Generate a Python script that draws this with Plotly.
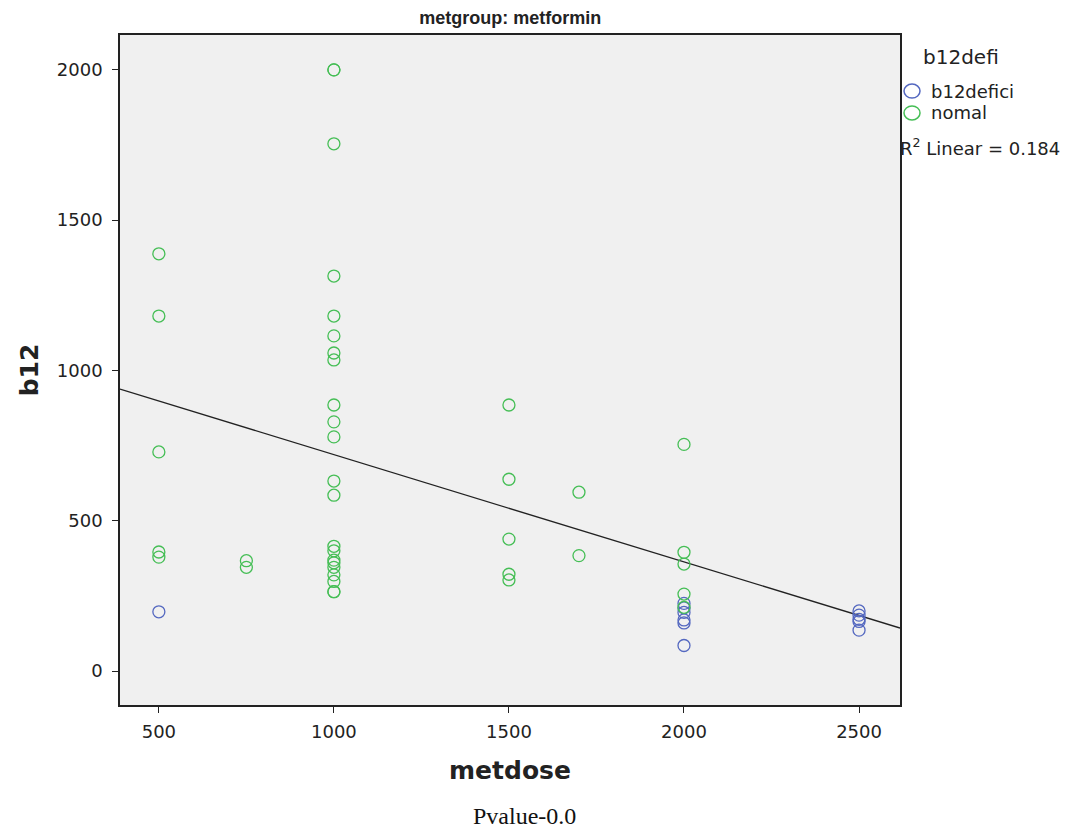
import plotly.graph_objects as go

# data
defici_dose = [500, 2000, 2000, 2000, 2000, 2000, 2000, 2500, 2500, 2500, 2500, 2500]
defici_b12 = [197, 225, 210, 195, 170, 160, 85, 200, 186, 172, 165, 136]

nomal_dose = [500, 500, 500, 500, 500,
              750, 750,
              1000, 1000, 1000, 1000, 1000, 1000, 1000, 1000, 1000, 1000, 1000, 1000, 1000,
              1000, 1000, 1000, 1000, 1000, 1000, 1000, 1000, 1000,
              1500, 1500, 1500, 1500, 1500,
              1700, 1700,
              2000, 2000, 2000, 2000, 2000]
nomal_b12 = [1388, 1181, 729, 396, 379,
             367, 345,
             2000, 2000, 1754, 1314, 1181, 1115, 1058, 1035, 885, 829, 779, 632, 585,
             415, 400, 369, 360, 345, 320, 298, 264, 264,
             885, 638, 439, 322, 303,
             595, 384,
             754, 395, 356, 256, 212]

# fit line endpoints (as drawn)
fit_x = [389, 2617]
fit_y = [938, 143]

x_ticks = [500, 1000, 1500, 2000, 2500]
y_ticks = [0, 500, 1000, 1500, 2000]

legend_names = ['b12defici', 'nomal']

blue = '#5468c0'
green = '#45be55'
sans = 'DejaVu Sans, Liberation Sans, Arial, sans-serif'

fig = go.Figure()
fig.add_trace(go.Scatter(x=fit_x, y=fit_y, mode='lines',
                         line=dict(color='#222222', width=1.3),
                         showlegend=False, hoverinfo='skip'))
fig.add_trace(go.Scatter(x=defici_dose, y=defici_b12, mode='markers', name=legend_names[0],
                         showlegend=False,
                         marker=dict(symbol='circle-open', size=12, color=blue,
                                     line=dict(width=1.3, color=blue))))
fig.add_trace(go.Scatter(x=nomal_dose, y=nomal_b12, mode='markers', name=legend_names[1],
                         showlegend=False,
                         marker=dict(symbol='circle-open', size=12, color=green,
                                     line=dict(width=1.3, color=green))))

fig.update_layout(
    width=1062, height=821,
    margin=dict(l=112, r=170, t=27, b=124),
    paper_bgcolor='white', plot_bgcolor='#f0f0f0',
    font=dict(family=sans, size=18, color='#222222'),
    title=dict(text='<b>metgroup: metformin</b>', x=0.473, xanchor='center',
               y=0.988, yanchor='middle',
               font=dict(family='Liberation Sans, Arial, sans-serif', size=18, color='#222222')),
    showlegend=False,
)
fig.update_xaxes(range=[389, 2617], tickvals=x_ticks, ticks='outside', ticklen=6,
                 tickcolor='#222222', showgrid=False, zeroline=False,
                 showline=True, linecolor='#222222', linewidth=1.5, mirror=True,
                 tickfont=dict(size=18), ticklabelstandoff=4,
                 title=dict(text='<b>metdose</b>', font=dict(size=25), standoff=20))
fig.update_yaxes(range=[-113, 2116], tickvals=y_ticks, ticks='outside', ticklen=6,
                 tickcolor='#222222', showgrid=False, zeroline=False,
                 showline=True, linecolor='#222222', linewidth=1.5, mirror=True,
                 tickfont=dict(size=18), ticklabelstandoff=6,
                 title=dict(text='<b>b12</b>', font=dict(size=25), standoff=11))

# manual legend
legend_y = [0.9164, 0.8836]
for name, col, ly in zip(legend_names, [blue, green], legend_y):
    fig.add_shape(type='circle', xref='paper', yref='paper',
                  xsizemode='pixel', ysizemode='pixel',
                  xanchor=1.0154, yanchor=ly, x0=-8, x1=8, y0=-7, y1=7,
                  line=dict(color=col, width=1.5), fillcolor='rgba(0,0,0,0)')
    fig.add_annotation(text=name, xref='paper', yref='paper',
                       x=1.0372, y=ly, xanchor='left', yanchor='middle', showarrow=False,
                       font=dict(size=18))

fig.add_annotation(text='b12defi', xref='paper', yref='paper',
                   x=1.027, y=0.967, xanchor='left', yanchor='middle', showarrow=False,
                   font=dict(size=20))
fig.add_annotation(text='R<sup>2</sup> Linear = 0.184', xref='paper', yref='paper',
                   x=0.997, y=0.833, xanchor='left', yanchor='middle', showarrow=False,
                   font=dict(size=18))
fig.add_annotation(text='Pvalue-0.0', xref='paper', yref='paper',
                   x=0.519, y=-0.1657, xanchor='center', yanchor='middle', showarrow=False,
                   font=dict(family='Liberation Serif, Times New Roman, serif', size=24,
                             color='#111111'))

fig.write_html('out.html')
